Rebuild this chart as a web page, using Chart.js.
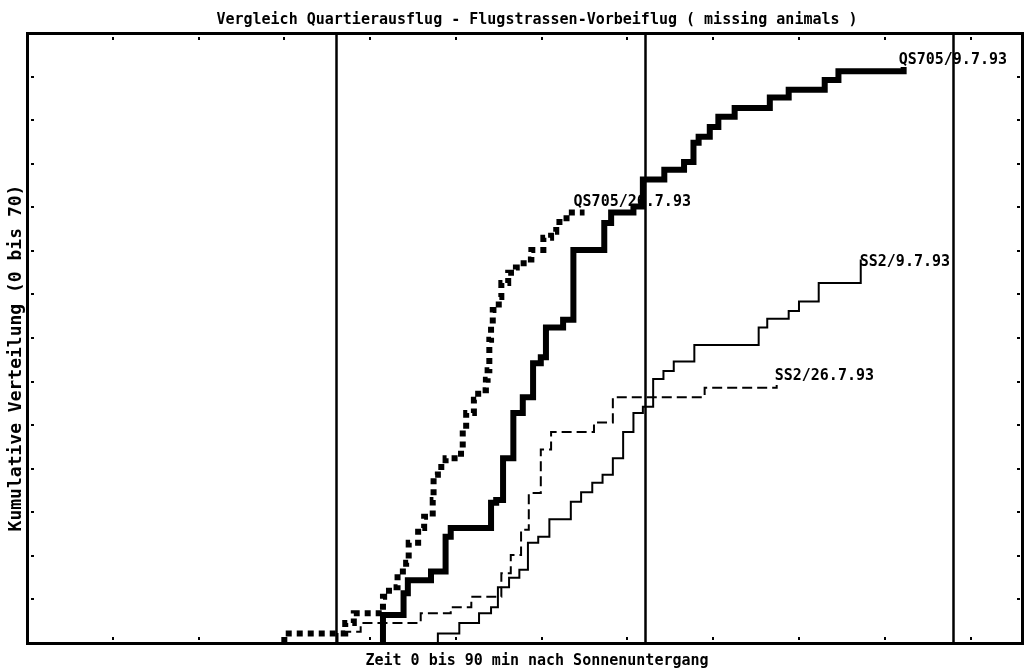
<!DOCTYPE html>
<html>
<head>
<meta charset="utf-8">
<script src="https://cdn.jsdelivr.net/npm/chart.js@4/dist/chart.umd.min.js"></script>
<style>
  html, body { margin: 0; padding: 0; background: #fff; }
  #wrap { width: 1024px; height: 671px; }
</style>
</head>
<body>
<div id="wrap"><canvas id="chart" width="1024" height="671"></canvas></div>
<script>
(function() {
    'use strict';

    // QS705 / 9.7.93  (thick solid)
    const qs0907X = [41.5, 41.5, 43.9, 44.4, 47.1, 48.8, 49.4, 54.1, 54.7, 55.5, 56.7, 57.8, 59.0, 59.9, 60.5, 62.5, 63.7, 67.3, 68.1, 70.7, 71.8, 74.3, 76.6, 77.7, 78.3, 79.6, 80.6, 82.5, 86.6, 88.8, 93.0, 94.6, 102.2];
    const qs0907Y = [0, 3.2, 5.7, 7.2, 8.2, 12.2, 13.2, 16.1, 16.4, 21.2, 26.4, 28.2, 32.1, 32.8, 36.2, 37.1, 45.1, 48.2, 49.4, 50.1, 53.2, 54.3, 55.2, 57.4, 58.1, 59.2, 60.4, 61.4, 62.6, 63.5, 64.6, 65.6, 66.1];

    // QS705 / 26.7.93  (thick dotted)
    const qs2607X = [30.0, 30.0, 37.1, 38.1, 41.5, 42.2, 43.2, 44.2, 44.5, 45.6, 46.3, 47.3, 47.4, 47.9, 48.8, 50.6, 50.8, 51.2, 52.1, 52.6, 53.5, 53.7, 53.9, 54.1, 54.3, 55.0, 55.3, 56.1, 57.0, 57.9, 58.8, 60.2, 61.1, 61.7, 62.9, 65.0];
    const qs2607Y = [0, 1.1, 2.3, 3.4, 5.3, 6.4, 8.2, 9.2, 11.5, 13.2, 14.5, 16.4, 19.3, 20.2, 21.2, 22.2, 24.5, 26.4, 27.9, 29.0, 30.2, 31.3, 34.8, 36.3, 38.2, 39.7, 41.3, 42.5, 43.1, 44.0, 45.1, 46.5, 47.2, 48.3, 49.4, 49.4];

    // SS2 / 9.7.93  (thin solid)
    const ss0907X = [47.9, 47.9, 50.4, 52.7, 54.1, 54.9, 56.2, 57.4, 58.4, 59.6, 60.9, 63.4, 64.6, 65.9, 67.1, 68.3, 69.5, 70.7, 71.8, 73.0, 74.2, 75.4, 77.8, 85.3, 86.3, 88.8, 90.0, 92.3, 97.2];
    const ss0907Y = [0, 1.1, 2.3, 3.4, 4.1, 6.4, 7.5, 8.4, 11.5, 12.2, 14.2, 16.2, 17.3, 18.4, 19.3, 21.2, 24.2, 26.4, 27.1, 30.3, 31.2, 32.3, 34.2, 36.2, 37.2, 38.1, 39.2, 41.3, 44.0];

    // SS2 / 26.7.93  (thin dashed)
    const ss2607X = [36.2, 36.2, 38.9, 45.9, 49.4, 51.8, 55.3, 56.4, 57.6, 58.5, 59.9, 61.1, 66.1, 68.3, 79.0, 87.4];
    const ss2607Y = [0, 1.3, 2.3, 3.4, 4.1, 5.3, 8.0, 10.1, 13.0, 17.2, 22.2, 24.2, 25.3, 28.2, 29.3, 29.6];

    const seriesLabels = ['QS705/9.7.93', 'QS705/26.7.93', 'SS2/9.7.93', 'SS2/26.7.93'];
    const markerLines = [36, 72, 108];

    const titleText = 'Vergleich Quartierausflug - Flugstrassen-Vorbeiflug ( missing animals )';
    const xTitle = 'Zeit 0 bis 90 min nach Sonnenuntergang';
    const yTitle = 'Kumulative Verteilung (0 bis 70)';

    const X_MIN = 0, X_MAX = 116, X_STEP = 10;
    const Y_MIN = 0, Y_MAX = 70, Y_STEP = 5;

    const MONO = '"DejaVu Sans Mono", "Liberation Mono", monospace';

    const pts = (xs, ys) => xs.map((x, i) => ({ x: x, y: ys[i] }));

    const baseSet = { stepped: 'before', pointRadius: 0, borderColor: '#000', fill: false, borderCapStyle: 'butt', borderJoinStyle: 'miter' };

    const datasets = [
        Object.assign({}, baseSet, { label: seriesLabels[0], data: pts(qs0907X, qs0907Y), borderWidth: 6, tagDx: -5, tagDy: -3 }),
        Object.assign({}, baseSet, { label: seriesLabels[1], data: pts(qs2607X, qs2607Y), borderWidth: 6, borderDash: [6, 5], tagDx: -11, tagDy: -7 }),
        Object.assign({}, baseSet, { label: seriesLabels[2], data: pts(ss0907X, ss0907Y), borderWidth: 2, tagDx: -1, tagDy: 6 }),
        Object.assign({}, baseSet, { label: seriesLabels[3], data: pts(ss2607X, ss2607Y), borderWidth: 2, borderDash: [10, 5], tagDx: -2, tagDy: -5 })
    ];

    // frame, inner tick dots, marker lines and all text
    const framePlugin = {
        id: 'frame',
        beforeDatasetsDraw(chart) {
            const { ctx, chartArea: a, scales: { x } } = chart;
            ctx.save();
            ctx.strokeStyle = '#000';
            ctx.lineWidth = 2.5;
            markerLines.forEach(v => {
                const px = Math.round(x.getPixelForValue(v)) + 0.5;
                ctx.beginPath();
                ctx.moveTo(px, a.top);
                ctx.lineTo(px, a.bottom);
                ctx.stroke();
            });
            ctx.restore();
        },
        afterDatasetsDraw(chart) {
            const { ctx, chartArea: a, scales: { x, y } } = chart;
            ctx.save();
            ctx.fillStyle = '#000';
            ctx.strokeStyle = '#000';

            ctx.lineWidth = 3;
            ctx.strokeRect(a.left + 0.5, a.top + 0.5, a.right - a.left, a.bottom - a.top);

            for (let v = X_MIN + X_STEP; v < X_MAX; v += X_STEP) {
                const px = Math.round(x.getPixelForValue(v));
                ctx.fillRect(px - 1, a.top + 4, 2, 3);
                ctx.fillRect(px - 1, a.bottom - 6, 2, 3);
            }
            for (let v = Y_MIN + Y_STEP; v < Y_MAX; v += Y_STEP) {
                const py = Math.round(y.getPixelForValue(v));
                ctx.fillRect(a.left + 4, py - 1, 3, 2);
                ctx.fillRect(a.right - 5, py - 1, 3, 2);
            }

            // series tags at the end of each curve
            ctx.font = 'bold 15px ' + MONO;
            ctx.textAlign = 'left';
            ctx.textBaseline = 'alphabetic';
            chart.data.datasets.forEach((ds, i) => {
                const meta = chart.getDatasetMeta(i);
                const last = meta.data[meta.data.length - 1];
                ctx.fillText(ds.label, last.x + ds.tagDx, last.y + ds.tagDy);
            });

            const cx = 537;
            ctx.textAlign = 'center';
            ctx.fillText(titleText, cx, 24);
            ctx.fillText(xTitle, cx, 665);

            ctx.font = 'bold 18px ' + MONO;
            ctx.textBaseline = 'middle';
            ctx.translate(16, 358);
            ctx.rotate(-Math.PI / 2);
            ctx.fillText(yTitle, 0, 0);
            ctx.restore();
        }
    };

    new Chart(document.getElementById('chart').getContext('2d'), {
        type: 'line',
        data: { datasets: datasets },
        options: {
            responsive: false,
            devicePixelRatio: 1,
            animation: false,
            layout: { padding: { left: 27, top: 33, right: 2, bottom: 28 } },
            scales: {
                x: { type: 'linear', min: X_MIN, max: X_MAX, display: false },
                y: { type: 'linear', min: Y_MIN, max: Y_MAX, display: false }
            },
            plugins: { legend: { display: false }, tooltip: { enabled: false } }
        },
        plugins: [framePlugin]
    });
})();
</script>
</body>
</html>
